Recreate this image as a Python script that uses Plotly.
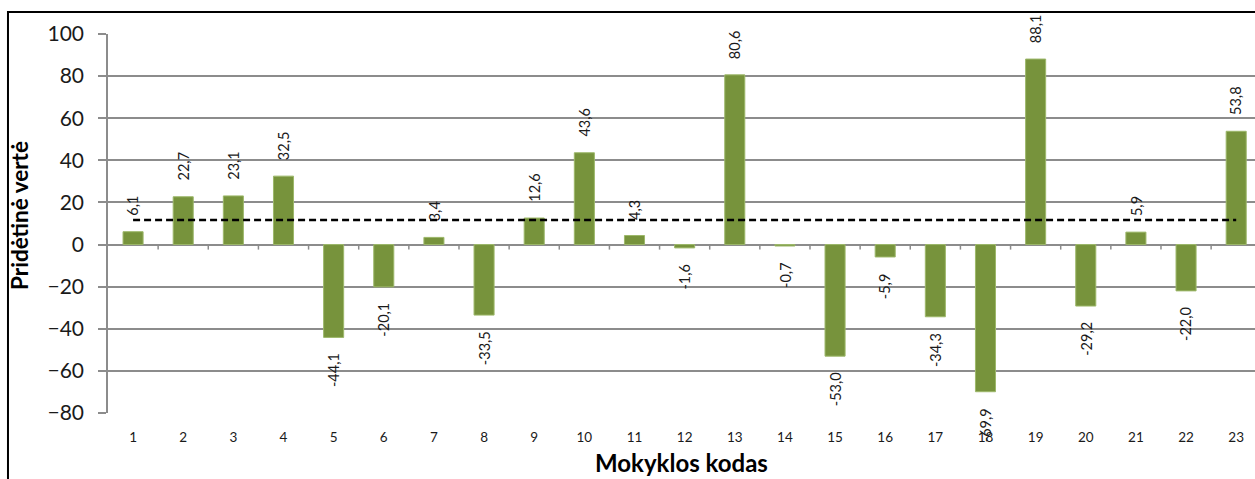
import plotly.graph_objects as go

# School codes and their added value
schools = list(range(1, 24))
added_value = [6.1, 22.7, 23.1, 32.5, -44.1, -20.1, 3.4, -33.5, 12.6, 43.6, 4.3, -1.6,
               80.6, -0.7, -53.0, -5.9, -34.3, -69.9, 88.1, -29.2, 5.9, -22.0, 53.8]
reference_level = 11.7
y_ticks = [-80, -60, -40, -20, 0, 20, 40, 60, 80, 100]

BAR_GREEN = "#77933C"
GRID_GRAY = "#8C8C8C"
FONT = "Lato, 'Open Sans', sans-serif"

fig = go.Figure()

fig.add_trace(go.Bar(
    x=schools, y=added_value,
    marker=dict(color=BAR_GREEN, line=dict(width=1, color="#9DB86A")),
    width=0.4,
    hoverinfo="x+y",
))

fig.add_trace(go.Scatter(
    x=schools, y=[reference_level] * len(schools),
    mode="lines",
    line=dict(color="black", width=2.5, dash="7px,4px"),
    hoverinfo="skip",
))

# value labels, rotated, placed just beyond each bar end
annotations = []
for s, v in zip(schools, added_value):
    annotations.append(dict(
        x=s, y=v, xref="x", yref="y",
        text=f"{v:.1f}".replace(".", ","),
        textangle=-90, showarrow=False,
        yanchor="bottom" if v >= 0 else "top",
        yshift=14 if v >= 0 else -14,
        font=dict(family=FONT, size=14.5, color="#1a1a1a"),
    ))

# axis titles
annotations.append(dict(
    x=-0.0767, y=0.52, xref="paper", yref="paper",
    text="<b>Pridėtinė vertė</b>", textangle=-90, showarrow=False,
    xanchor="center", yanchor="middle",
    font=dict(family=FONT, size=22.5, color="black"),
))
annotations.append(dict(
    x=0.5, y=-1.0, xref="paper", yref="paper",
    yanchor="bottom", yshift=379 * 1.0 - 66,
    text="<b>Mokyklos kodas</b>", showarrow=False,
    xanchor="center",
    font=dict(family=FONT, size=24, color="black"),
))

# category separator ticks along the zero line
shapes = []
for s in schools[:-1]:
    shapes.append(dict(
        type="line", xref="x", yref="y",
        x0=s + 0.5, x1=s + 0.5, y0=0, y1=-2.4,
        line=dict(color=GRID_GRAY, width=1.5),
    ))

# outer chart frame
shapes.append(dict(
    type="rect", xref="paper", yref="paper",
    x0=-0.0872, x1=1.05, y0=-0.3, y1=1.058,
    line=dict(color="black", width=2),
    layer="below",
))

fig.update_layout(
    width=1255, height=479,
    margin=dict(l=108, r=0, t=34, b=66),
    paper_bgcolor="white", plot_bgcolor="white",
    showlegend=False,
    bargap=0.6,
    font=dict(family=FONT, color="#1a1a1a"),
    annotations=annotations,
    shapes=shapes,
    xaxis=dict(
        range=[0.5, 23.375],
        tickmode="array", tickvals=schools, ticktext=[str(s) for s in schools],
        showgrid=False, showline=False, zeroline=False, ticks="",
        tickfont=dict(family=FONT, size=13.5, color="#1a1a1a"),
        ticklabelstandoff=14,
    ),
    yaxis=dict(
        range=[-80, 100],
        tickmode="array", tickvals=y_ticks,
        showgrid=True, gridcolor=GRID_GRAY, gridwidth=1.5,
        zeroline=True, zerolinecolor=GRID_GRAY, zerolinewidth=1.5,
        showline=True, linecolor=GRID_GRAY, linewidth=1.5,
        ticks="outside", ticklen=8, tickcolor=GRID_GRAY, tickwidth=1.5,
        tickfont=dict(family=FONT, size=21, color="#1a1a1a"),
        ticklabelstandoff=10,
    ),
)

fig.write_html("out.html")
